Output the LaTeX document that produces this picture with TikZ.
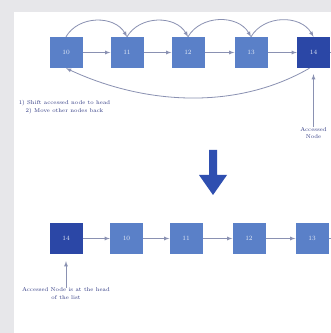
\documentclass[tikz,border=0pt]{standalone}
\usepackage{tikz}
\usetikzlibrary{arrows,calc,positioning}

\definecolor{panelgray}{HTML}{E7E7EA}
\definecolor{nodelight}{HTML}{5A80C8}
\definecolor{nodedark}{HTML}{2B47A6}
\definecolor{linkgray}{HTML}{8A91B2}
\definecolor{textnavy}{HTML}{2B3580}
\definecolor{bigarrow}{HTML}{2F4FB0}

\tikzset{
  listnode/.style={fill=nodelight, minimum width=33pt, minimum height=31pt,
    inner sep=0pt, text=white!85!nodelight, font=\fontsize{6.5}{7}\selectfont},
  headnode/.style={listnode, fill=nodedark},
  link/.style={draw=linkgray, line width=0.8pt, -latex},
  note/.style={text=textnavy, align=center, font=\fontsize{5.6}{7.5}\selectfont, inner sep=0pt}
}

\begin{document}
\begin{tikzpicture}[x=1pt, y=1pt]
\useasboundingbox (0,0) rectangle (331,333);
\fill[panelgray] (0,0) rectangle (331,333);
\fill[white] (14,0) rectangle (331,321);

% list before the access
\node[listnode] (a10) at (66, 280.5) {10};
\node[listnode] (a11) at (127, 280.5) {11};
\node[listnode] (a12) at (188, 280.5) {12};
\node[listnode] (a13) at (251, 280.5) {13};
\node[headnode] (a14) at (313.5, 280.5) {14};
\coordinate (aend) at (340, 280.5);

\draw [link] (a10) to (a11);
\draw [link] (a11) to (a12);
\draw [link] (a12) to (a13);
\draw [link] (a13) to (a14);
\draw [link] (a14) to (aend);

\draw [link] (a10.north) to[out=60, in=120, looseness=1.05] (a11.north);
\draw [link] (a11.north) to[out=60, in=120, looseness=1.05] (a12.north);
\draw [link] (a12.north) to[out=60, in=120, looseness=1.05] (a13.north);
\draw [link] (a13.north) to[out=60, in=120, looseness=1.05] (a14.north);
\draw [link] ($(a14.south)+(-4,0)$) to[out=-150, in=-25, looseness=0.9] (a10.south);

\node[note] (steps) at (64.5, 226) {1) Shift accessed node to head\\ 2) Move other nodes back};
\node[note] (accessed) at (313.5, 200) {Accessed\\ Node};
\draw [link, shorten >=6pt] (accessed) to (a14.south);

% big arrow
\fill[bigarrow] (209,183) -- (217,183) -- (217,158) -- (227,158) -- (213,138)
  -- (199,158) -- (209,158) -- cycle;

% list after the access
\node[headnode] (b14) at (66, 94.5) {14};
\node[listnode] (b10) at (126.5, 94.5) {10};
\node[listnode] (b11) at (186, 94.5) {11};
\node[listnode] (b12) at (249, 94.5) {12};
\node[listnode] (b13) at (312, 94.5) {13};
\coordinate (bend) at (340, 94.5);

\draw [link] (b14) to (b10);
\draw [link] (b10) to (b11);
\draw [link] (b11) to (b12);
\draw [link] (b12) to (b13);
\draw [link] (b13) to (bend);

\node[note] (headnote) at (66, 39.5) {Accessed Node is at the head\\ of the list};
\draw [link, shorten >=7pt] (headnote) to (b14.south);
\end{tikzpicture}
\end{document}
